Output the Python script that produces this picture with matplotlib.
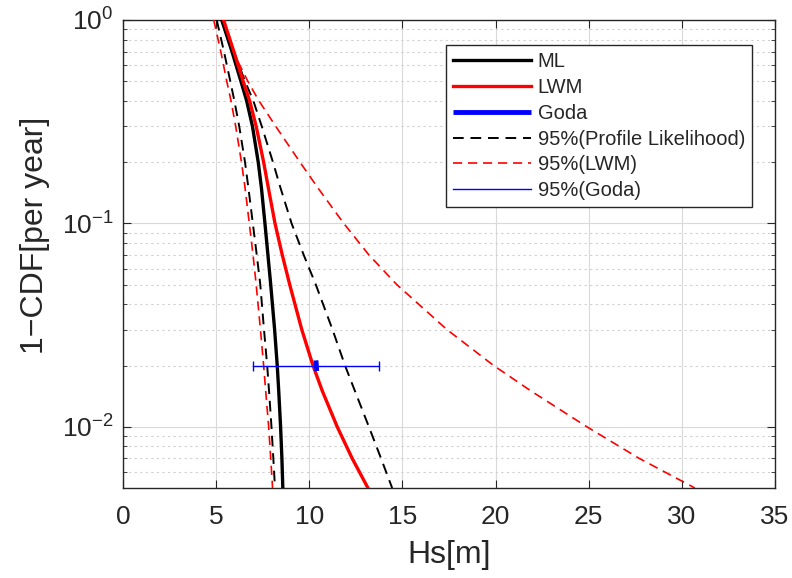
import matplotlib
matplotlib.use("Agg")
import matplotlib.pyplot as plt
from matplotlib.ticker import LogLocator, NullFormatter

# ---- data ----
prob = [1.0, 0.7, 0.5, 0.4, 0.3, 0.2, 0.15, 0.1, 0.07, 0.05, 0.03, 0.02, 0.015, 0.01, 0.007, 0.005]
hs_ml = [5.3, 5.85, 6.33, 6.64, 6.95, 7.26, 7.43, 7.62, 7.78, 7.93, 8.14, 8.28, 8.36, 8.46, 8.53, 8.58]
hs_lwm = [5.4, 5.95, 6.45, 6.8, 7.15, 7.55, 7.8, 8.16, 8.55, 8.95, 9.6, 10.2, 10.7, 11.5, 12.3, 13.15]
hs_pl_upper = [5.3, 5.95, 6.55, 7.0, 7.45, 8.05, 8.45, 9.05, 9.7, 10.35, 11.25, 11.92, 12.45, 13.2, 13.85, 14.45]
hs_pl_lower = [5.03, 5.42, 5.76, 5.98, 6.24, 6.55, 6.73, 6.97, 7.18, 7.37, 7.57, 7.74, 7.84, 7.97, 8.07, 8.16]
hs_lwm_upper = [5.3, 5.9, 6.7, 7.3, 8.2, 9.5, 10.45, 11.85, 13.2, 14.7, 17.4, 19.9, 21.9, 24.9, 27.7, 30.7]
hs_lwm_lower = [4.87, 5.25, 5.57, 5.8, 6.05, 6.36, 6.55, 6.78, 6.98, 7.15, 7.38, 7.55, 7.66, 7.82, 7.93, 8.03]

goda_hs = [10.36, 10.40]
goda_prob = [0.0212, 0.0188]
goda_center = 10.38
goda_low = 6.96
goda_high = 13.76
goda_level = 0.02

labels = ["ML", "LWM", "Goda", "95%(Profile Likelihood)", "95%(LWM)", "95%(Goda)"]
xticks = [0, 5, 10, 15, 20, 25, 30, 35]

plt.rcParams['font.family'] = ['Liberation Sans Narrow', 'Liberation Sans', 'DejaVu Sans']
plt.rcParams['mathtext.fontset'] = 'custom'
plt.rcParams['mathtext.rm'] = 'Liberation Sans Narrow'
plt.rcParams['mathtext.it'] = 'Liberation Sans Narrow:italic'
plt.rcParams['mathtext.sf'] = 'Liberation Sans Narrow'

txt = '#262626'
fig = plt.figure(figsize=(7.92, 5.78), dpi=100)
ax = fig.add_axes([0.1553, 0.1557, 0.9785 - 0.1553, 0.9654 - 0.1557])

dash = (0, (5.5, 3.5))
ax.plot(hs_ml, prob, color='black', lw=2.4, label=labels[0], zorder=5)
ax.plot(hs_lwm, prob, color='red', lw=2.4, label=labels[1], zorder=5)
ax.plot(goda_hs, goda_prob, color='blue', lw=3.5, label=labels[2], zorder=6, solid_capstyle='butt')
ax.plot(hs_pl_upper, prob, color='black', lw=1.4, ls=dash, label=labels[3], zorder=4)
ax.plot(hs_lwm_upper, prob, color='red', lw=1.2, ls=dash, label=labels[4], zorder=4)
ax.plot(hs_pl_lower, prob, color='black', lw=1.4, ls=dash, zorder=4)
ax.plot(hs_lwm_lower, prob, color='red', lw=1.2, ls=dash, zorder=4)
ax.errorbar([goda_center], [goda_level],
            xerr=[[goda_center - goda_low], [goda_high - goda_center]],
            fmt='none', ecolor='blue', elinewidth=1.0, capsize=3.3, capthick=1.0, zorder=6)
ax.plot([], [], color='blue', lw=1.0, label=labels[5])

ax.set_yscale('log')
ax.set_xlim(0, 35)
ax.set_ylim(0.005, 1)
ax.set_xticks(xticks)
ax.yaxis.set_major_locator(LogLocator(base=10, numticks=10))
ax.yaxis.set_minor_locator(LogLocator(base=10, subs=range(2, 10), numticks=20))
ax.yaxis.set_minor_formatter(NullFormatter())

ax.grid(True, which='major', color='#d9d9d9', lw=0.8, ls='-')
ax.grid(True, which='minor', axis='y', color='#d0d0d0', lw=0.8, ls=(0, (2, 3)))
ax.set_axisbelow(True)

ax.tick_params(which='both', direction='in', top=True, right=True, colors=txt, labelsize=19)
ax.tick_params(axis='x', which='both', pad=12)
ax.tick_params(axis='y', which='both', pad=7)
ax.tick_params(which='major', length=6, width=0.8)
ax.tick_params(which='minor', length=3, width=0.6)
for s in ax.spines.values():
    s.set_color(txt)
    s.set_linewidth(1.0)

ax.set_xlabel('Hs[m]', fontsize=23, color=txt, labelpad=8)
ax.set_ylabel('1\u2212CDF[per year]', fontsize=23, color=txt)
ax.yaxis.set_label_coords(-0.112, 0.54)

leg = ax.legend(loc='upper right', bbox_to_anchor=(0.9647, 0.9466), borderaxespad=0,
                prop={'family': ['Liberation Sans', 'DejaVu Sans'], 'size': 14.5},
                handlelength=3.9, handletextpad=0.3, labelspacing=0.34,
                frameon=True, fancybox=False, edgecolor='#262626', framealpha=1,
                borderpad=0.35)
leg.get_frame().set_linewidth(1.0)
for t in leg.get_texts():
    t.set_color(txt)

fig.savefig('out.png', dpi=100)
